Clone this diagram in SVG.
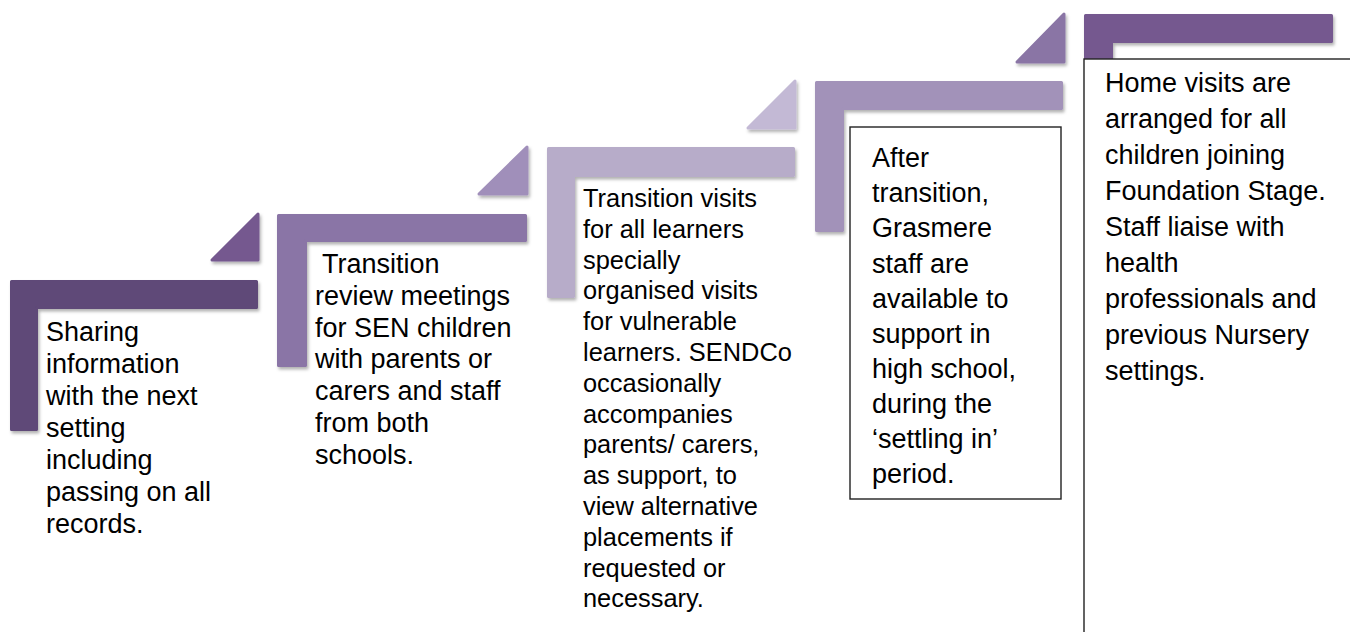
<svg xmlns="http://www.w3.org/2000/svg" width="1350" height="632" viewBox="0 0 1350 632">
<defs>
<filter id="sh" x="-10%" y="-10%" width="130%" height="130%">
<feDropShadow dx="1.5" dy="2.5" stdDeviation="1.5" flood-color="#000" flood-opacity="0.3"/>
</filter>
<style>
.t{font-family:"Liberation Sans",Arial,sans-serif;font-size:27px;fill:#000}
.t3{font-size:25.4px}
.box{fill:#fff;stroke:#222;stroke-width:1.4}
.s{filter:url(#sh);stroke-linejoin:round;stroke-width:3}
</style>
</defs>
<rect width="1350" height="632" fill="#fff"/>
<g id="connectors">
<polygon class="s" points="212,260 258,214 258,260" fill="#74598f" stroke="#74598f"/>
<polygon class="s" points="479,194 527,147 527,194" fill="#a08fba" stroke="#a08fba"/>
<polygon class="s" points="748,128 795,81 795,128" fill="#c3b9d5" stroke="#c3b9d5"/>
<polygon class="s" points="1017,62 1064,14 1064,62" fill="#8a75a5" stroke="#8a75a5"/>
</g>
<g id="step1">
<path class="s" d="M11.5,281.5 H256.5 V307.5 H36.5 V429.5 H11.5 Z" fill="#5e4878" stroke="#5e4878"/>
<text class="t"><tspan x="46" y="341">Sharing</tspan><tspan x="46" y="373">information</tspan><tspan x="46" y="405">with the next</tspan><tspan x="46" y="437">setting</tspan><tspan x="46" y="469">including</tspan><tspan x="46" y="501">passing on all</tspan><tspan x="46" y="533">records.</tspan></text>
</g>
<g id="step2">
<path class="s" d="M278.5,215.5 H525.5 V240.5 H305.5 V365.5 H278.5 Z" fill="#8a74a6" stroke="#8a74a6"/>
<text class="t"><tspan x="322" y="273">Transition</tspan><tspan x="315" y="305">review meetings</tspan><tspan x="315" y="337">for SEN children</tspan><tspan x="315" y="368">with parents or</tspan><tspan x="315" y="400">carers and staff</tspan><tspan x="315" y="432">from both</tspan><tspan x="315" y="464">schools.</tspan></text>
</g>
<g id="step3">
<path class="s" d="M548.5,148.5 H793.5 V175.5 H573.5 V296.5 H548.5 Z" fill="#b7acc9" stroke="#b7acc9"/>
<text class="t t3"><tspan x="583" y="207">Transition visits</tspan><tspan x="583" y="238">for all learners</tspan><tspan x="583" y="269">specially</tspan><tspan x="583" y="299">organised visits</tspan><tspan x="583" y="330">for vulnerable</tspan><tspan x="583" y="361">learners. SENDCo</tspan><tspan x="583" y="392">occasionally</tspan><tspan x="583" y="423">accompanies</tspan><tspan x="583" y="453">parents/ carers,</tspan><tspan x="583" y="484">as support, to</tspan><tspan x="583" y="515">view alternative</tspan><tspan x="583" y="546">placements if</tspan><tspan x="583" y="577">requested or</tspan><tspan x="583" y="607">necessary.</tspan></text>
</g>
<g id="step4">
<path class="s" d="M816.5,82.5 H1061.5 V108.5 H842.5 V230.5 H816.5 Z" fill="#a292b9" stroke="#a292b9"/>
<rect class="box" x="850" y="127" width="211" height="372"/>
<text class="t"><tspan x="872" y="167">After</tspan><tspan x="872" y="202">transition,</tspan><tspan x="872" y="237">Grasmere</tspan><tspan x="872" y="273">staff are</tspan><tspan x="872" y="308">available to</tspan><tspan x="872" y="343">support in</tspan><tspan x="872" y="378">high school,</tspan><tspan x="872" y="413">during the</tspan><tspan x="872" y="448">‘settling in’</tspan><tspan x="872" y="483">period.</tspan></text>
</g>
<g id="step5">
<path class="s" d="M1085.5,15.5 H1331.5 V41.5 H1111.5 V160 H1085.5 Z" fill="#74598f" stroke="#74598f"/>
<rect class="box" x="1084" y="59" width="300" height="600"/>
<text class="t"><tspan x="1105" y="92">Home visits are</tspan><tspan x="1105" y="128">arranged for all</tspan><tspan x="1105" y="164">children joining</tspan><tspan x="1105" y="200">Foundation Stage.</tspan><tspan x="1105" y="236">Staff liaise with</tspan><tspan x="1105" y="272">health</tspan><tspan x="1105" y="308">professionals and</tspan><tspan x="1105" y="344">previous Nursery</tspan><tspan x="1105" y="380">settings.</tspan></text>
</g>
</svg>
